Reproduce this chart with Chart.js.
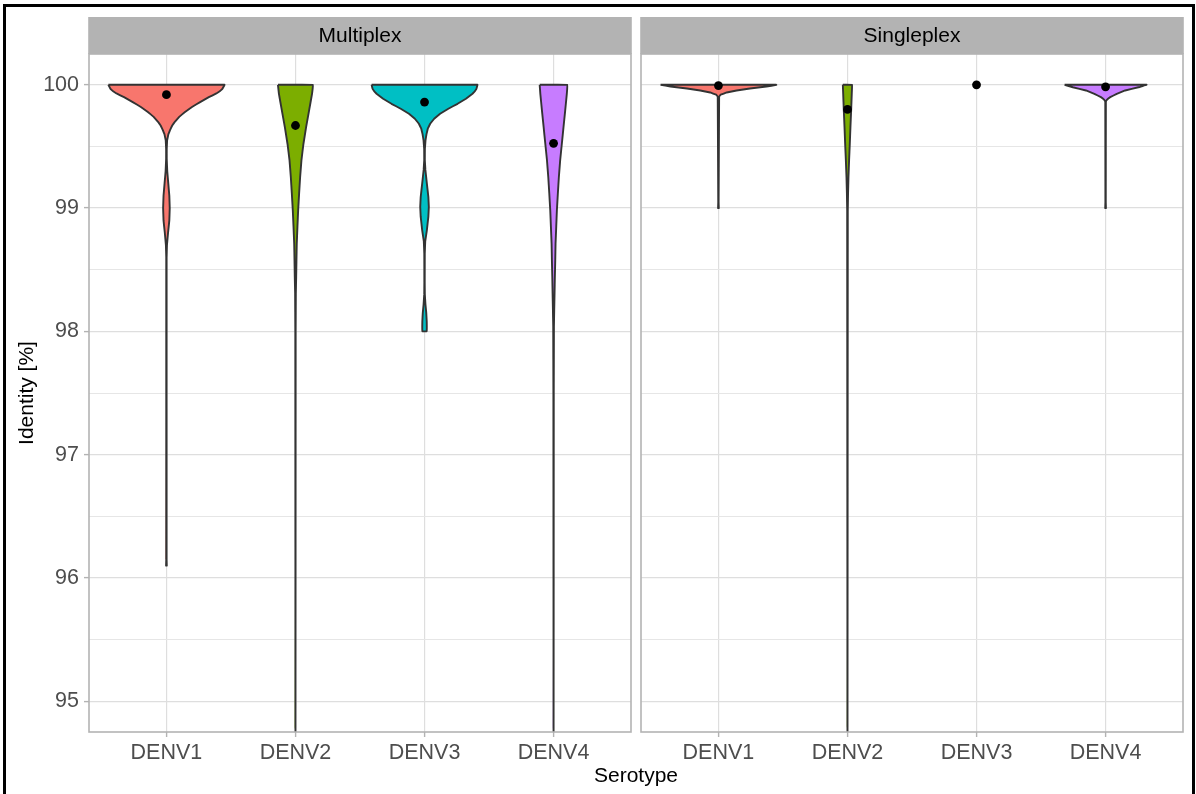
<!DOCTYPE html>
<html>
<head>
<meta charset="utf-8">
<title>Identity by serotype</title>
<script src="https://cdn.jsdelivr.net/npm/chart.js@4.4.1/dist/chart.umd.min.js"></script>
<style>
  html, body { margin: 0; padding: 0; background: #ffffff; }
  body { width: 1196px; height: 794px; position: relative; overflow: hidden;
         font-family: "Liberation Sans", Arial, Helvetica, sans-serif; }
  #frame { position: absolute; left: 3px; top: 4px; width: 1192px; height: 830px;
           border: 3px solid #000; box-sizing: border-box; pointer-events: none; }
  canvas { position: absolute; top: 0; }
  #panelA { left: 0; }
  #panelB { left: 636px; }
  #xTitle { position: absolute; left: 0; width: 1272px; top: 763px; text-align: center;
            font-size: 21px; line-height: 24px; color: #000; }
</style>
</head>
<body>
<div id="frame"></div>
<canvas id="panelA" width="636" height="794"></canvas>
<canvas id="panelB" width="560" height="794"></canvas>
<div id="xTitle">Serotype</div>
<script>
// ---- data -------------------------------------------------------------
const serotypes = ['DENV1', 'DENV2', 'DENV3', 'DENV4'];
const panelLabels = ['Multiplex', 'Singleplex'];
const identityTicks = [95, 96, 97, 98, 99, 100];
const identityMinorTicks = [95.5, 96.5, 97.5, 98.5, 99.5];

// mean identity per serotype (black dots)
const multiplexMeans = [99.92, 99.67, 99.86, 99.525];
const singleplexMeans = [99.994, 99.80, 100, 99.984];

// violin profiles: identity level and relative density (1 = widest violin)
const multiplexDenv1Identity = [100, 99.965, 99.93, 99.90, 99.86, 99.82, 99.78, 99.74, 99.70, 99.67, 99.63, 99.60, 99.55, 99.48, 99.40, 99.30, 99.20, 99.10, 99.00, 98.90, 98.80, 98.70, 98.60, 96.15, 96.10];
const multiplexDenv1Density  = [1.0, 0.96, 0.86, 0.73, 0.58, 0.44, 0.32, 0.22, 0.145, 0.10, 0.06, 0.034, 0.012, 0.005, 0.005, 0.014, 0.032, 0.05, 0.057, 0.05, 0.028, 0.009, 0.003, 0.003, 0.006];

const multiplexDenv2Identity = [100, 99.927, 99.79, 99.657, 99.52, 99.39, 99.25, 99.12, 98.98, 98.85, 98.71, 98.58, 98.44, 98.31, 98.0, 94.5];
const multiplexDenv2Density  = [0.302, 0.285, 0.234, 0.183, 0.137, 0.103, 0.080, 0.063, 0.046, 0.034, 0.022, 0.017, 0.012, 0.006, 0.003, 0];

const multiplexDenv3Identity = [100, 99.967, 99.927, 99.887, 99.846, 99.806, 99.765, 99.725, 99.684, 99.644, 99.60, 99.55, 99.48, 99.39, 99.31, 99.20, 99.09, 99.01, 98.93, 98.82, 98.73, 98.63, 98.40, 98.30, 98.22, 98.15, 98.08, 98.00];
const multiplexDenv3Density  = [0.911, 0.894, 0.826, 0.713, 0.569, 0.410, 0.268, 0.166, 0.097, 0.056, 0.034, 0.017, 0.006, 0.005, 0.015, 0.04, 0.066, 0.074, 0.066, 0.04, 0.012, 0.004, 0.003, 0.005, 0.016, 0.03, 0.038, 0.036];

const multiplexDenv4Identity = [100, 99.927, 99.79, 99.657, 99.52, 99.39, 99.25, 99.12, 98.98, 98.85, 98.71, 98.58, 98.44, 98.31, 98.17, 98.04, 97.5, 94.5];
const multiplexDenv4Density  = [0.239, 0.228, 0.2, 0.171, 0.142, 0.114, 0.091, 0.074, 0.057, 0.046, 0.034, 0.029, 0.022, 0.017, 0.011, 0.006, 0.003, 0];

const singleplexDenv1Identity = [100, 99.986, 99.97, 99.954, 99.938, 99.92, 99.905, 99.05, 99.0];
const singleplexDenv1Density  = [0.997, 0.826, 0.542, 0.313, 0.142, 0.04, 0.012, 0.003, 0.006];

const singleplexDenv2Identity = [100, 99.927, 99.79, 99.657, 99.52, 99.39, 99.25, 99.12, 98.98, 94.5];
const singleplexDenv2Density  = [0.08, 0.074, 0.063, 0.051, 0.04, 0.028, 0.017, 0.01, 0.005, 0];

// DENV3 singleplex: every read at 100 %, no spread to draw
const singleplexDenv3Identity = [];
const singleplexDenv3Density  = [];

const singleplexDenv4Identity = [100, 99.98, 99.954, 99.927, 99.90, 99.878, 99.86, 99.05, 99.0];
const singleplexDenv4Density  = [0.706, 0.564, 0.337, 0.193, 0.08, 0.022, 0.005, 0.003, 0.006];

// ---- styling ------------------------------------------------------------
const serotypeColours = ['#F8766D', '#7CAE00', '#00BFC4', '#C77CFF'];
const FONT = '"Liberation Sans", Arial, Helvetica, sans-serif';
const HALF_WIDTH = 0.45;           // widest violin spans 0.9 of a category slot
const OUTLINE = '#333333';
const GRID_MAJOR = '#DEDEDE';
const GRID_MINOR = '#E6E6E6';
const FRAME = '#B3B3B3';

Chart.defaults.font.family = FONT;
Chart.defaults.devicePixelRatio = 1;

// closed outline of one violin: down the left side, back up the right side
function violinPoints(center, identity, density) {
  const left = identity.map((v, i) => ({ x: center - HALF_WIDTH * density[i], y: v }));
  const right = identity.map((v, i) => ({ x: center + HALF_WIDTH * density[i], y: v })).reverse();
  const pts = left.concat(right);
  if (pts.length) pts.push(left[0]);
  return pts;
}

function buildDatasets(profiles, means) {
  const sets = [];
  profiles.forEach((p, i) => {
    if (!p[0].length) return;
    sets.push({
      type: 'line',
      data: violinPoints(i + 1, p[0], p[1]),
      borderColor: OUTLINE,
      borderWidth: 1.9,
      borderJoinStyle: 'round',
      backgroundColor: serotypeColours[i],
      fill: 'shape',
      // a small tension keeps the outline on the full path renderer
      // (the straight-line fast path merges points sharing an x pixel)
      tension: 0.02,
      capBezierPoints: false,
      pointRadius: 0,
      clip: 0,
      order: 1
    });
  });
  sets.push({
    type: 'scatter',
    data: means.map((m, i) => ({ x: i + 1, y: m })),
    backgroundColor: '#000000',
    borderWidth: 0,
    pointRadius: 4.4,
    order: 0
  });
  return sets;
}

// grey facet strip above the panel, plus the panel frame
const facetPlugin = {
  id: 'facet',
  afterDraw(chart, args, opts) {
    const { ctx, chartArea: a } = chart;
    ctx.save();
    ctx.fillStyle = FRAME;
    ctx.fillRect(a.left - 0.8, 17, a.right - a.left + 1.6, a.top - 17);
    ctx.fillStyle = '#000';
    ctx.font = '21px ' + FONT;
    ctx.textAlign = 'center';
    ctx.textBaseline = 'alphabetic';
    ctx.fillText(opts.label, (a.left + a.right) / 2, 42);
    ctx.strokeStyle = FRAME;
    ctx.lineWidth = 1.6;
    ctx.strokeRect(a.left, a.top, a.right - a.left, a.bottom - a.top);
    if (opts.yTitle) {
      ctx.translate(27.5, (a.top + a.bottom) / 2);
      ctx.rotate(-Math.PI / 2);
      ctx.textBaseline = 'middle';
      ctx.fillText(opts.yTitle, 0, 0);
    }
    ctx.restore();
  }
};

function panelOptions(label, showY, leftWidth, rightPad) {
  const isMajor = (v) => identityTicks.includes(v);
  return {
    responsive: false,
    animation: false,
    devicePixelRatio: 1,
    layout: { padding: { top: 54, right: rightPad, bottom: 0, left: 0 } },
    plugins: {
      legend: { display: false },
      tooltip: { enabled: false },
      facet: { label: label, yTitle: showY ? 'Identity [%]' : null }
    },
    scales: {
      x: {
        type: 'linear',
        min: 0.4,
        max: 4.6,
        afterBuildTicks: (s) => { s.ticks = serotypes.map((_, i) => ({ value: i + 1 })); },
        afterFit: (s) => { s.height = 62; },
        ticks: {
          autoSkip: false,
          maxRotation: 0,
          padding: 3,
          color: '#4D4D4D',
          font: { size: 21.5 },
          callback: (v) => serotypes[Math.round(v) - 1]
        },
        grid: { color: GRID_MAJOR, lineWidth: 1.2, tickLength: 5, tickColor: FRAME, tickWidth: 1.4 },
        border: { display: false }
      },
      y: {
        type: 'linear',
        min: 94.75,
        max: 100.25,
        afterBuildTicks: (s) => {
          s.ticks = identityTicks.concat(identityMinorTicks).sort((p, q) => p - q).map(v => ({ value: v }));
        },
        afterFit: (s) => { s.width = leftWidth; },
        ticks: {
          display: showY,
          autoSkip: false,
          padding: 5,
          color: '#4D4D4D',
          font: { size: 21.5 },
          callback: (v) => isMajor(v) ? String(v) : ''
        },
        grid: {
          drawTicks: showY,
          tickLength: 5,
          color: (c) => (c.tick && isMajor(c.tick.value)) ? GRID_MAJOR : GRID_MINOR,
          lineWidth: (c) => (c.tick && isMajor(c.tick.value)) ? 1.2 : 1.0,
          tickColor: (c) => (c.tick && isMajor(c.tick.value)) ? FRAME : 'rgba(0,0,0,0)',
          tickWidth: 1.4
        },
        border: { display: false }
      }
    }
  };
}

const multiplexProfiles = [
  [multiplexDenv1Identity, multiplexDenv1Density],
  [multiplexDenv2Identity, multiplexDenv2Density],
  [multiplexDenv3Identity, multiplexDenv3Density],
  [multiplexDenv4Identity, multiplexDenv4Density]
];
const singleplexProfiles = [
  [singleplexDenv1Identity, singleplexDenv1Density],
  [singleplexDenv2Identity, singleplexDenv2Density],
  [singleplexDenv3Identity, singleplexDenv3Density],
  [singleplexDenv4Identity, singleplexDenv4Density]
];

new Chart(document.getElementById('panelA'), {
  type: 'line',
  data: { datasets: buildDatasets(multiplexProfiles, multiplexMeans) },
  options: panelOptions(panelLabels[0], true, 89, 5),
  plugins: [facetPlugin]
});

new Chart(document.getElementById('panelB'), {
  type: 'line',
  data: { datasets: buildDatasets(singleplexProfiles, singleplexMeans) },
  options: panelOptions(panelLabels[1], false, 5, 13),
  plugins: [facetPlugin]
});
</script>
</body>
</html>
